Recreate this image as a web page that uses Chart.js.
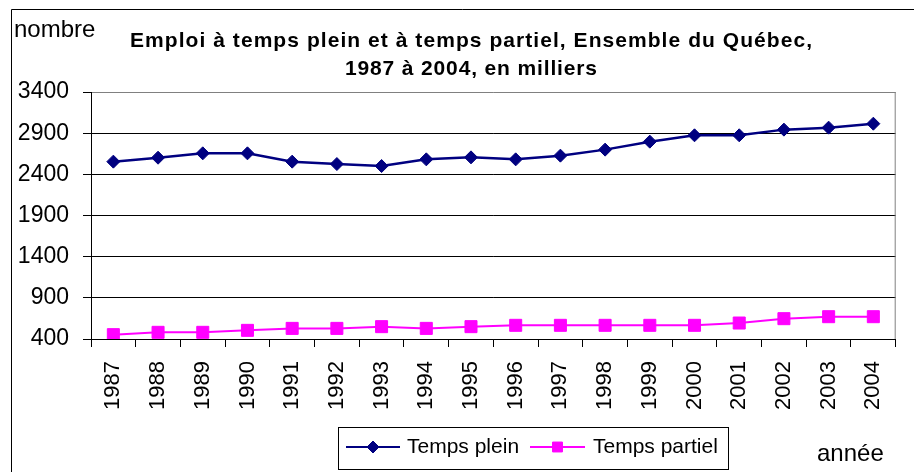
<!DOCTYPE html>
<html>
<head>
    <title>Emploi Québec</title>
    <script src="https://cdn.jsdelivr.net/npm/chart.js"></script>
    <style>
        body {
            margin: 0;
            background-color: #fff;
        }
        canvas {
            display: block;
        }
    </style>
</head>
<body>
<canvas id="emploiChart" width="914" height="472"></canvas>

<script>
    const annees = ['1987', '1988', '1989', '1990', '1991', '1992', '1993', '1994', '1995',
                    '1996', '1997', '1998', '1999', '2000', '2001', '2002', '2003', '2004'];
    const tempsPlein = [2554, 2602, 2655, 2655, 2554, 2525, 2501, 2582, 2606,
                        2582, 2627, 2700, 2797, 2874, 2874, 2943, 2967, 3015];
    const tempsPartiel = [453, 481, 481, 505, 529, 529, 550, 529, 550,
                          566, 566, 566, 566, 566, 594, 647, 671, 671];
    const titreLignes = ['Emploi à temps plein et à temps partiel, Ensemble du Québec,',
                         '1987 à 2004, en milliers'];
    const yMin = 400, yMax = 3400, yPas = 500;

    const police = "'Liberation Sans', Arial, sans-serif";

    // texte avec espacement entre lettres pour atteindre une largeur donnée
    function texteEtire(ctx, txt, cx, cy, largeur) {
        const nat = ctx.measureText(txt).width;
        const extra = (largeur - nat) / (txt.length - 1);
        let x = cx - largeur / 2;
        ctx.textAlign = 'left';
        for (const c of txt) {
            ctx.fillText(c, x, cy);
            x += ctx.measureText(c).width + extra;
        }
    }

    const decor = {
        id: 'decor',
        beforeDraw(chart) {
            const c = chart.ctx;
            c.save();
            c.fillStyle = '#fff';
            c.fillRect(0, 0, chart.width, chart.height);
            c.restore();
        },
        afterDraw(chart) {
            const c = chart.ctx;
            const a = chart.chartArea;
            c.save();
            // cadre extérieur (haut et gauche)
            c.strokeStyle = '#000';
            c.lineWidth = 1;
            c.beginPath();
            c.moveTo(11.5, chart.height);
            c.lineTo(11.5, 9.5);
            c.lineTo(chart.width, 9.5);
            c.stroke();
            // bord droit de la zone de tracé
            c.strokeStyle = '#808080';
            c.beginPath();
            c.moveTo(a.right - 0.5, a.top);
            c.lineTo(a.right - 0.5, a.bottom);
            c.stroke();

            // titre
            c.fillStyle = '#000';
            c.textBaseline = 'middle';
            c.font = 'bold 21px ' + police;
            texteEtire(c, titreLignes[0], 471, 41, 682);
            texteEtire(c, titreLignes[1], 471, 69, 252);

            c.font = '24px ' + police;
            c.textAlign = 'left';
            c.fillText('nombre', 14, 30);
            c.fillText('année', 817, 454);

            // légende
            c.strokeStyle = '#000';
            c.strokeRect(338.5, 427.5, 390, 42);
            const ds = chart.data.datasets;
            const items = [
                {x1: 346, x2: 400, txt: 407, d: ds[0], r: 6},
                {x1: 530, x2: 585, txt: 593, d: ds[1], r: 7}
            ];
            const ly = 447;
            c.font = '21px ' + police;
            items.forEach(it => {
                c.strokeStyle = it.d.borderColor;
                c.lineWidth = 2;
                c.beginPath();
                c.moveTo(it.x1, ly);
                c.lineTo(it.x2, ly);
                c.stroke();
                c.fillStyle = it.d.pointBackgroundColor;
                c.lineWidth = 1;
                Chart.helpers.drawPoint(c, {
                    pointStyle: it.d.pointStyle, radius: it.r, rotation: 0, borderWidth: 1
                }, (it.x1 + it.x2) / 2, ly);
                c.fillStyle = '#000';
                c.fillText(it.d.label, it.txt, ly);
            });
            c.restore();
        }
    };

    const ctx = document.getElementById('emploiChart').getContext('2d');
    const chart = new Chart(ctx, {
        type: 'line',
        data: {
            labels: annees,
            datasets: [{
                label: 'Temps plein',
                data: tempsPlein,
                borderColor: '#000080',
                backgroundColor: '#000080',
                pointBackgroundColor: '#000080',
                pointBorderColor: '#000080',
                pointStyle: 'rectRot',
                pointRadius: 6.5,
                pointBorderWidth: 1,
                borderWidth: 2.5,
                tension: 0
            }, {
                label: 'Temps partiel',
                data: tempsPartiel,
                borderColor: '#ff00ff',
                backgroundColor: '#ff00ff',
                pointBackgroundColor: '#ff00ff',
                pointBorderColor: '#ff00ff',
                pointStyle: 'rect',
                pointRadius: 8.5,
                pointBorderWidth: 1,
                borderWidth: 2,
                tension: 0
            }]
        },
        options: {
            responsive: false,
            devicePixelRatio: 1,
            animation: false,
            layout: { padding: { top: 92, right: 4, left: 0, bottom: 0 } },
            plugins: {
                legend: { display: false },
                title: { display: false },
                tooltip: { enabled: false }
            },
            scales: {
                x: {
                    offset: true,
                    grid: {
                        offset: true,
                        drawOnChartArea: false,
                        tickLength: 8,
                        color: '#000'
                    },
                    border: { color: '#000', width: 1 },
                    ticks: {
                        autoSkip: false,
                        minRotation: 90,
                        maxRotation: 90,
                        padding: 14,
                        color: '#000',
                        font: { family: police, size: 22 }
                    },
                    afterFit: s => { s.height = 133; }
                },
                y: {
                    min: yMin,
                    max: yMax,
                    grid: {
                        color: c => (c.tick && c.tick.value === yMax) ? '#808080' : '#000',
                        tickColor: '#000',
                        tickLength: 8
                    },
                    border: { color: '#000', width: 1 },
                    ticks: {
                        stepSize: yPas,
                        padding: 14,
                        color: '#000',
                        font: { family: police, size: 23 },
                        callback: v => String(v)
                    },
                    afterFit: s => { s.width = 91; }
                }
            }
        },
        plugins: [decor]
    });
</script>
</body>
</html>
